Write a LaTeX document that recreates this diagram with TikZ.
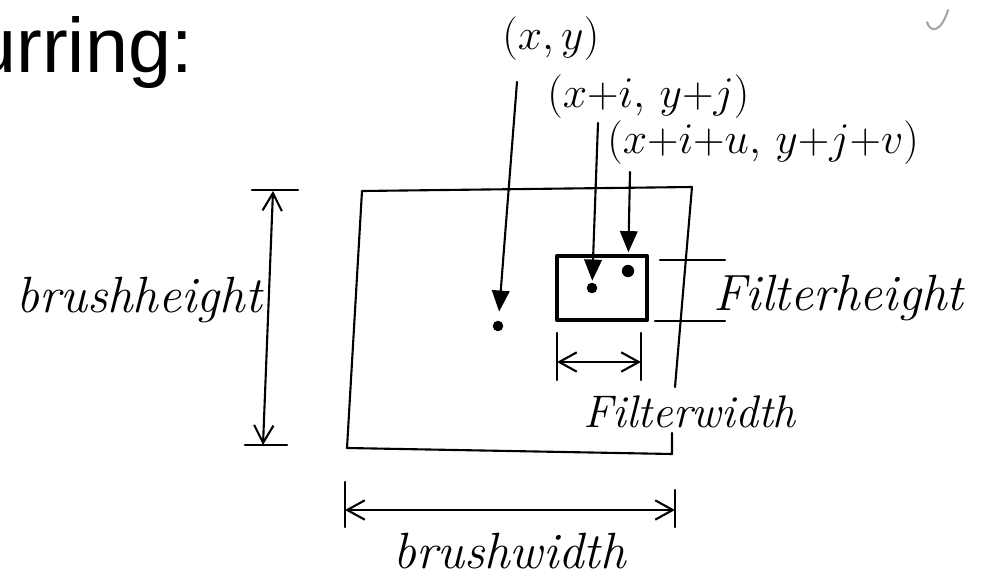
\documentclass[tikz,border=0pt]{standalone}
\usepackage{fontspec}
\setsansfont{Liberation Sans}
\usetikzlibrary{arrows.meta,positioning}

\begin{document}
\begin{tikzpicture}[x=0.02cm,y=-0.02cm,
    handline/.style={line width=1.2pt,line cap=round,line join=round},
    filterbox/.style={line width=2.6pt,line join=round},
    dimarrow/.style={handline,{Straight Barb[length=10pt,width=11pt]}-{Straight Barb[length=10pt,width=11pt]}},
    ptr/.style={handline,-{Triangle[length=12pt,width=10pt]}},
    dot/.style={circle,fill,inner sep=0pt,minimum size=#1},
    dot/.default=6pt,
    hand/.style={font=\fontsize{29}{32}\selectfont\itshape,inner sep=0pt,anchor=base west},
    coordlbl/.style={font=\fontsize{24.88}{28}\selectfont,inner sep=0pt,anchor=base west},
]
\useasboundingbox (0,0) rectangle (988,578);

% Title (cut off at the left edge)
\node[font=\sffamily\fontsize{44}{50}\selectfont,anchor=base east,inner sep=0pt]
  (title) at (193,72) {urring:};

% Brush area (right edge broken where Filterwidth passes) and filter window
\draw[handline] (672,433) -- (672,454) -- (347,448) -- (362,191) -- (692,187) -- (675,387);
\draw[filterbox] (557,256) rectangle (647,320);

% Sample points
\node[dot]      (pxy) at (498,326) {};
\node[dot]      (pij) at (592,288) {};
\node[dot=7pt]  (puv) at (628,271) {};

% Coordinate labels and their pointers
\node[coordlbl] (lxy) at (502,50)  {$(x,y)$};
\node[coordlbl] (lij) at (547,107) {$(x{+}i,\,y{+}j)$};
\node[coordlbl] (luv) at (607,153) {$(x{+}i{+}u,\,y{+}j{+}v)$};

\coordinate (sxy) at (517,82);
\coordinate (sij) at (598,123);
\coordinate (suv) at (630,172);
\draw[ptr,shorten >=5pt]  (sxy) -- (pxy);
\draw[ptr,shorten >=1pt]  (sij) -- (pij);
\draw[ptr,shorten >=7pt]  (suv) -- (puv);

% brushheight dimension
\draw[handline] (252,190) -- (298,190);
\draw[handline] (245,445) -- (287,445);
\coordinate (bhtop) at (273,191);
\coordinate (bhbot) at (263,445);
\draw[dimarrow] (bhtop) -- (bhbot);
\node[hand] (bheight) at (16,312) {brushheight};

% brushwidth dimension
\draw[handline] (345,482) -- (345,527);
\draw[handline] (675,490) -- (675,527);
\coordinate (bwleft)  at (345,510);
\coordinate (bwright) at (675,510);
\draw[dimarrow] (bwleft) -- (bwright);
\node[hand] (bwidth) at (393,568) {brushwidth};

% Filterheight extension lines
\draw[handline] (660,260) -- (725,260);
\draw[handline] (655,321) -- (725,321);
\node[hand] (fheight) at (713,310) {Filterheight};

% Filterwidth dimension
\draw[handline] (557,333) -- (557,380);
\draw[handline] (641,333) -- (641,380);
\coordinate (fwleft)  at (557,362);
\coordinate (fwright) at (641,362);
\draw[dimarrow] (fwleft) -- (fwright);
\node[hand,font=\fontsize{26}{30}\selectfont\itshape] (fwidth) at (583,427) {Filterwidth};

% stray pen mark, top right
\draw[gray!70,line width=1.2pt,line cap=round] (927,22) .. controls (930,33) and (941,33) .. (948,10);
\end{tikzpicture}
\end{document}
